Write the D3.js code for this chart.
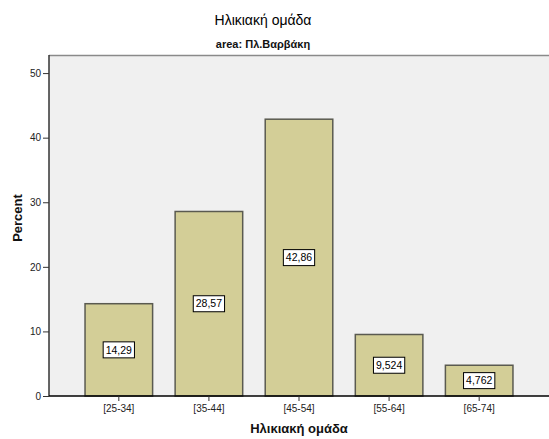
<!DOCTYPE html>
<html><head><meta charset="utf-8">
<script src="https://cdn.jsdelivr.net/npm/d3@7"></script>
<style>body{margin:0;background:#fff;}svg{display:block;font-family:Arial,"Liberation Sans",sans-serif;}</style>
</head><body>
<svg id="c" width="549" height="439"></svg>
<script>
const categories = ["[25-34]","[35-44]","[45-54]","[55-64]","[65-74]"];
const values = [14.29, 28.57, 42.86, 9.524, 4.762];
const valueLabels = ["14,29","28,57","42,86","9,524","4,762"];
const yTicks = [0,10,20,30,40,50];

const svg = d3.select("#c");
const L = 49, R = 549, T = 55, B = 396;
const x = d3.scaleBand().domain(categories).range([L, R]).paddingInner(0.25).paddingOuter(0.4);
const y = d3.scaleLinear().domain([0, 52.8]).range([B, T]);

svg.append("rect").attr("x", L).attr("y", T).attr("width", R - L).attr("height", B - T).attr("fill", "#f0f0f0");
svg.append("line").attr("x1", L).attr("x2", R).attr("y1", T + 0.5).attr("y2", T + 0.5).attr("stroke", "#8a8a8a").attr("stroke-width", 1.5);

svg.selectAll("rect.bar").data(values).enter().append("rect").attr("class", "bar")
  .attr("x", (d, i) => x(categories[i])).attr("y", d => y(d))
  .attr("width", x.bandwidth()).attr("height", d => B - y(d))
  .attr("fill", "#d3ce97").attr("stroke", "#5a5a50").attr("stroke-width", 1.5);

const lab = svg.selectAll("g.lab").data(values).enter().append("g").attr("class", "lab")
  .attr("transform", (d, i) => `translate(${x(categories[i]) + x.bandwidth() / 2},${y(d / 2)})`);
lab.each(function (d, i) {
  const g = d3.select(this);
  const t = g.append("text").attr("text-anchor", "middle").attr("dy", "0.35em")
    .attr("font-size", 10.5).attr("fill", "#000").text(valueLabels[i]);
  const w = t.node().getComputedTextLength();
  g.insert("rect", "text").attr("x", -w / 2 - 2.5).attr("y", -8).attr("width", w + 5).attr("height", 16)
    .attr("fill", "#fff").attr("stroke", "#000").attr("stroke-width", 1);
});

const yAxis = svg.append("g").attr("transform", `translate(${L},0)`)
  .call(d3.axisLeft(y).tickValues(yTicks).tickSize(6).tickPadding(2));
yAxis.select(".domain").attr("stroke", "#333").attr("stroke-width", 1.5).attr("d", `M0,${T}V${B}`);
yAxis.selectAll(".tick line").attr("stroke", "#333");
yAxis.selectAll(".tick text").attr("font-size", 10).attr("fill", "#222").attr("font-family", "Arial,'Liberation Sans',sans-serif");

const xAxis = svg.append("g").attr("transform", `translate(0,${B})`)
  .call(d3.axisBottom(x).tickSize(5).tickPadding(4));
xAxis.select(".domain").attr("stroke", "#000").attr("stroke-width", 1.5).attr("d", `M${L},0H${R}`);
xAxis.selectAll(".tick line").attr("stroke", "#333");
xAxis.selectAll(".tick text").attr("font-size", 10).attr("fill", "#222").attr("font-family", "Arial,'Liberation Sans',sans-serif");

svg.append("text").attr("x", 263).attr("y", 25).attr("text-anchor", "middle").attr("font-size", 14).attr("fill", "#000").text("Ηλικιακή ομάδα");
svg.append("text").attr("x", 263).attr("y", 48).attr("text-anchor", "middle").attr("font-size", 11).attr("font-weight", "bold").attr("fill", "#111").text("area: Πλ.Βαρβάκη");
svg.append("text").attr("x", 299).attr("y", 433).attr("text-anchor", "middle").attr("font-size", 13).attr("font-weight", "bold").attr("fill", "#111").text("Ηλικιακή ομάδα");
svg.append("text").attr("transform", "translate(22,218) rotate(-90)").attr("text-anchor", "middle").attr("font-size", 13).attr("font-weight", "bold").attr("fill", "#111").text("Percent");
</script>
</body></html>
